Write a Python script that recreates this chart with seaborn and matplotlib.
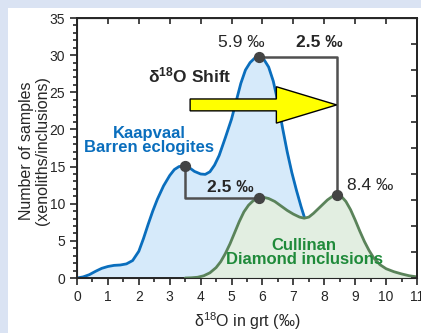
import numpy as np
import pandas as pd
import seaborn as sns
import matplotlib.pyplot as plt
from matplotlib.patches import FancyArrow, Rectangle

# Kaapvaal barren eclogites (blue curve)
kaap_x = [0.0, 0.2, 0.4, 0.6, 0.8, 1.0, 1.2, 1.4, 1.6, 1.8, 2.0, 2.15, 2.3, 2.45, 2.6,
          2.8, 3.0, 3.15, 3.3, 3.5, 3.65, 3.8, 4.0, 4.15, 4.3, 4.45, 4.6, 4.8, 5.0, 5.15,
          5.3, 5.45, 5.6, 5.75, 5.9, 6.05, 6.2, 6.35, 6.5, 6.65, 6.8, 6.95, 7.1, 7.25, 7.4,
          7.6, 7.8, 8.0, 8.25, 8.5, 8.75]
kaap_y = [0.0, 0.15, 0.45, 0.9, 1.3, 1.55, 1.7, 1.75, 1.9, 2.35, 3.6, 5.3, 7.2, 9.0, 10.6,
          12.4, 13.8, 14.6, 15.0, 15.1, 14.8, 14.35, 14.0, 13.95, 14.3, 15.2, 16.5, 18.9, 21.4, 23.8,
          26.2, 28.0, 29.0, 29.6, 29.8, 29.4, 28.4, 26.5, 23.7, 20.2, 17.0, 14.2, 11.8, 9.6, 7.6,
          5.4, 3.6, 2.2, 1.0, 0.3, 0.0]

# Cullinan diamond inclusions (green curve)
cull_x = [3.5, 3.7, 3.9, 4.1, 4.3, 4.5, 4.65, 4.8, 4.95, 5.1, 5.25, 5.4, 5.55, 5.7, 5.9,
          6.05, 6.2, 6.4, 6.6, 6.8, 7.0, 7.2, 7.35, 7.5, 7.65, 7.8, 7.95, 8.1, 8.25, 8.4,
          8.55, 8.7, 8.85, 9.0, 9.15, 9.3, 9.45, 9.6, 9.8, 10.0, 10.25, 10.5, 10.75, 11.0]
cull_y = [0.0, 0.03, 0.1, 0.3, 0.7, 1.4, 2.2, 3.3, 4.6, 6.1, 7.6, 8.9, 9.8, 10.4, 10.8,
          10.85, 10.7, 10.3, 9.7, 9.1, 8.6, 8.2, 8.05, 8.2, 8.7, 9.3, 9.9, 10.5, 10.95, 11.2,
          11.0, 10.3, 9.2, 7.8, 6.3, 4.9, 3.7, 2.7, 1.8, 1.25, 0.85, 0.55, 0.3, 0.15]

# peak markers (x, y)
kaap_peaks = [(3.5, 15.1), (5.9, 29.8)]
cull_peaks = [(5.9, 10.8), (8.4, 11.2)]

BLUE = "#0a6ebd"
GREEN_LINE = "#5a835a"
GREEN_TXT = "#1f8a3a"
GRAY = "#505050"

sns.set_style("ticks")
plt.rcParams["font.family"] = ["Liberation Sans", "DejaVu Sans"]
plt.rcParams["mathtext.fontset"] = "stix"

fig = plt.figure(figsize=(4.21, 3.33), dpi=100, facecolor="#dae3f3")
fig.patches.append(Rectangle((8 / 421, 0), 1, 1 - 8 / 333, transform=fig.transFigure,
                             facecolor="white", edgecolor="none", zorder=-10))
ax = fig.add_axes([77 / 421, 1 - 278 / 333, 340 / 421, 260 / 333])
ax.set_facecolor("none")

kaap = pd.DataFrame({"x": kaap_x, "y": kaap_y})
cull = pd.DataFrame({"x": cull_x, "y": cull_y})

ax.fill_between(kaap["x"], kaap["y"], color="#d6eafa", zorder=1)
sns.lineplot(data=kaap, x="x", y="y", color=BLUE, lw=2, sort=False, ax=ax, zorder=2)
ax.fill_between(cull["x"], cull["y"], color="#e2eee1", zorder=3)
sns.lineplot(data=cull, x="x", y="y", color=GREEN_LINE, lw=2, sort=False, ax=ax, zorder=4)

# shift connectors
(kx1, ky1), (kx2, ky2) = kaap_peaks
(cx1, cy1), (cx2, cy2) = cull_peaks
ax.plot([kx2, cx2, cx2], [ky2, ky2, cy2], color=GRAY, lw=1.8, zorder=5)
ax.plot([kx1, kx1, cx1], [ky1, cy1, cy1], color=GRAY, lw=1.8, zorder=5)
px = [p[0] for p in kaap_peaks + cull_peaks]
py = [p[1] for p in kaap_peaks + cull_peaks]
ax.scatter(px, py, s=50, color="#444444", zorder=6)

ax.add_patch(FancyArrow(3.66, 23.3, cx2 - 3.66, 0, width=1.6, head_width=4.9, head_length=1.95,
                        length_includes_head=True, facecolor="#ffff00", edgecolor="black",
                        lw=1, zorder=7))

ax.text(5.3, 31.7, "5.9 ‰", ha="center", va="center", fontsize=12.5)
ax.text(7.83, 31.7, "2.5 ‰", ha="center", va="center", fontsize=12.5, fontweight="bold")
ax.text(3.66, 27.3, r"$\mathregular{\delta^{18}}$O Shift", ha="center", va="center",
        fontsize=12.5, fontweight="bold")
ax.text(2.33, 18.5, "Kaapvaal\nBarren eclogites", ha="center", va="center", fontsize=12,
        fontweight="bold", color=BLUE, linespacing=0.95)
ax.text(4.96, 12.2, "2.5 ‰", ha="center", va="center", fontsize=12.5, fontweight="bold", zorder=8)
ax.text(9.5, 12.5, "8.4 ‰", ha="center", va="center", fontsize=12.5, zorder=8)
ax.text(7.35, 3.4, "Cullinan\nDiamond inclusions", ha="center", va="center", fontsize=12,
        fontweight="bold", color=GREEN_TXT, linespacing=0.95, zorder=8)

ax.set_xlim(0, 11)
ax.set_ylim(0, 35)
ax.set_xticks(range(0, 12))
ax.set_xticks(np.arange(0.5, 11, 1.0), minor=True)
ax.set_yticks(range(0, 36, 5))
ax.set_yticks(range(0, 36), minor=True)
ax.tick_params(axis="both", which="major", labelsize=10, length=5, width=1.2, direction="out")
ax.tick_params(axis="both", which="minor", length=3, width=1.2, direction="out")
for s in ax.spines.values():
    s.set_linewidth(1.4)
    s.set_visible(True)

top = ax.secondary_xaxis("top")
top.set_xticks(range(0, 12))
top.tick_params(direction="in", length=4, width=1.2, labeltop=False)
right = ax.twinx()
right.set_ylim(0, 10)
right.set_yticks(range(0, 11))
right.tick_params(direction="in", length=4, width=1.2, labelright=False)
right.spines["right"].set_linewidth(1.4)

ax.set_xlabel(r"$\mathregular{\delta^{18}}$O in grt (‰)", fontsize=11.5)
ax.set_ylabel("Number of samples\n(xenoliths/inclusions)", fontsize=11.5, linespacing=1.05)
ax.xaxis.set_label_coords(0.5, -0.125)
ax.yaxis.set_label_coords(-0.08, 0.49)

fig.savefig("out.png", dpi=100, facecolor=fig.get_facecolor())
